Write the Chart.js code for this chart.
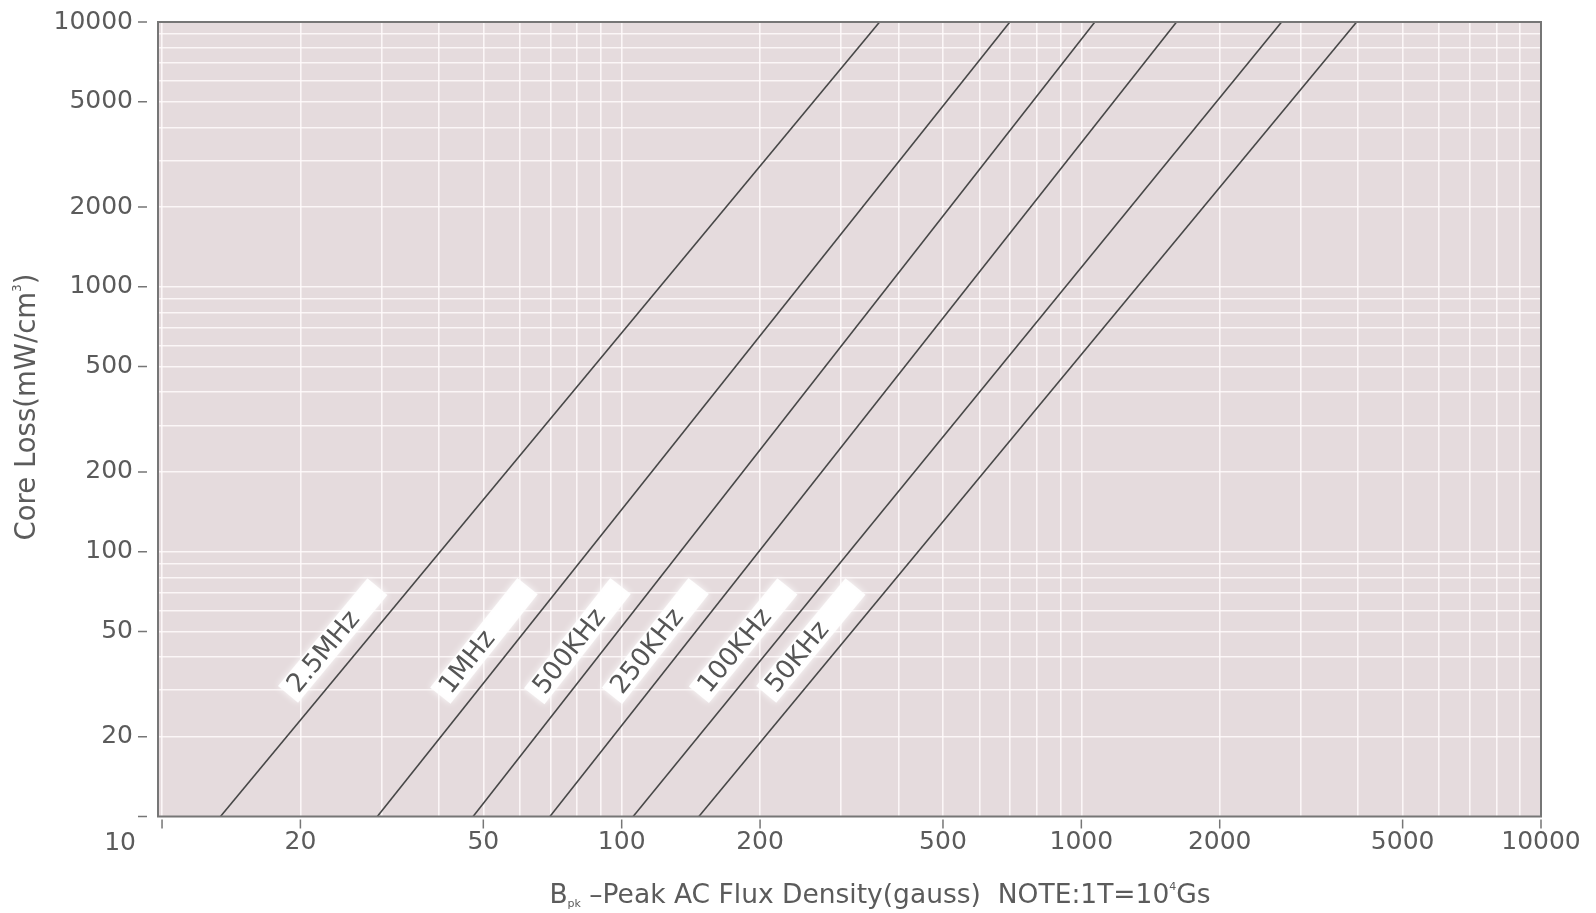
<!DOCTYPE html>
<html>
<head>
<meta charset="utf-8">
<title>Core Loss vs Flux Density</title>
<script src="https://cdn.jsdelivr.net/npm/chart.js@4.4.1/dist/chart.umd.min.js"></script>
<style>
  html, body { margin: 0; padding: 0; background: #ffffff; }
  #wrap { width: 1596px; height: 913px; position: relative; }
</style>
</head>
<body>
<div id="wrap"><canvas id="lossChart"></canvas></div>
<script>
// Each frequency curve is a straight line on log-log axes,
// given by the flux density where it crosses loss = 10 and loss = 10000
const freqNames  = ['2.5MHz', '1MHz', '500KHz', '250KHz', '100KHz', '50KHz'];
const fluxAtLow  = [13.4, 29.4, 47.5, 69.8, 105.9, 147.2];   // gauss at 10 mW/cm3
const fluxAtHigh = [364, 699, 1070, 1611, 2727, 3971];       // gauss at 10000 mW/cm3
const lossLow  = 10;
const lossHigh = 10000;

// loss value along each line where its name tag sits
const tagLoss = 40;

// grid lines (1..9 per decade) and labelled ticks
const gridValues = [10, 20, 30, 40, 50, 60, 70, 80, 90,
                    100, 200, 300, 400, 500, 600, 700, 800, 900,
                    1000, 2000, 3000, 4000, 5000, 6000, 7000, 8000, 9000, 10000];
const xLabelValues = [10, 20, 50, 100, 200, 500, 1000, 2000, 5000, 10000];
const yLabelValues = [10, 20, 50, 100, 200, 500, 1000, 2000, 5000, 10000];

const FONT = 'DejaVu Sans';
const TEXT_COLOR = '#5b5b5b';
const FRAME_COLOR = '#767676';

// pinkish panel behind the grid
const plotBackground = {
  id: 'plotBackground',
  beforeDraw(chart) {
    const { ctx, chartArea: a } = chart;
    ctx.save();
    ctx.fillStyle = '#e5dbdd';
    ctx.fillRect(a.left, a.top, a.right - a.left, a.bottom - a.top);
    ctx.restore();
  }
};

// frame, short detached tick marks and the shared "10" corner label
const frameAndTicks = {
  id: 'frameAndTicks',
  afterDatasetsDraw(chart) {
    const { ctx, chartArea: a, scales: { x, y } } = chart;
    ctx.save();
    ctx.strokeStyle = FRAME_COLOR;
    ctx.lineWidth = 2;
    ctx.strokeRect(a.left, a.top, a.right - a.left, a.bottom - a.top);

    ctx.lineWidth = 1.5;
    ctx.beginPath();
    xLabelValues.forEach(v => {
      const px = x.getPixelForValue(v);
      ctx.moveTo(px, a.bottom + 3);
      ctx.lineTo(px, a.bottom + 12);
    });
    yLabelValues.forEach(v => {
      const py = y.getPixelForValue(v);
      ctx.moveTo(a.left - 20, py);
      ctx.lineTo(a.left - 11, py);
    });
    ctx.stroke();

    ctx.fillStyle = TEXT_COLOR;
    ctx.font = '25px "' + FONT + '"';
    ctx.textAlign = 'center';
    ctx.textBaseline = 'middle';
    ctx.fillText('10', x.getPixelForValue(10) - 42, a.bottom + 27);
    ctx.restore();
  }
};

// white tags with the frequency names, laid along each line
const curveTags = {
  id: 'curveTags',
  afterDatasetsDraw(chart) {
    const { ctx, scales: { x, y } } = chart;
    chart.data.datasets.forEach(ds => {
      const [p0, p1] = ds.data;
      const x0 = x.getPixelForValue(p0.x), y0 = y.getPixelForValue(p0.y);
      const x1 = x.getPixelForValue(p1.x), y1 = y.getPixelForValue(p1.y);
      const ang = Math.atan2(y1 - y0, x1 - x0);
      const ty = y.getPixelForValue(tagLoss);
      const tx = x0 + (ty - y0) * (x1 - x0) / (y1 - y0);

      ctx.save();
      ctx.translate(tx, ty);
      ctx.rotate(ang);
      ctx.translate(0, -26);
      ctx.shadowColor = 'rgba(255,255,255,0.95)';
      ctx.shadowBlur = 7;
      ctx.fillStyle = 'rgba(255,255,255,0.93)';
      ctx.fillRect(-70, -13, 140, 26);
      ctx.shadowBlur = 0;
      ctx.fillStyle = '#555555';
      ctx.font = '26px "' + FONT + '"';
      ctx.textAlign = 'left';
      ctx.textBaseline = 'middle';
      ctx.fillText(ds.label, -63, 1);
      ctx.restore();
    });
  }
};

// draws a row of text pieces (with sub/superscripts) centred on cx
function drawRuns(ctx, runs, cx, baseY) {
  let total = 0;
  runs.forEach(r => {
    ctx.font = r.size + 'px "' + FONT + '"';
    r.w = ctx.measureText(r.t).width;
    total += r.w;
  });
  let cur = cx - total / 2;
  runs.forEach(r => {
    ctx.font = r.size + 'px "' + FONT + '"';
    ctx.fillText(r.t, cur, baseY + (r.dy || 0));
    cur += r.w;
  });
}

// axis titles
const axisTitles = {
  id: 'axisTitles',
  afterDraw(chart) {
    const { ctx } = chart;
    ctx.save();
    ctx.fillStyle = TEXT_COLOR;
    ctx.textAlign = 'left';
    ctx.textBaseline = 'alphabetic';
    drawRuns(ctx, [
      { t: 'B', size: 26.5 },
      { t: 'pk', size: 11, dy: 4 },
      { t: ' \u2013Peak AC Flux Density(gauss)  NOTE:1T=10', size: 26.5 },
      { t: '4', size: 11, dy: -13 },
      { t: 'Gs', size: 26.5 }
    ], 880, 903);

    ctx.translate(25, 407);
    ctx.rotate(-Math.PI / 2);
    drawRuns(ctx, [
      { t: 'Core Loss(mW/cm', size: 27.5 },
      { t: '3', size: 12, dy: -14 },
      { t: ')', size: 27.5 }
    ], 0, 10);
    ctx.restore();
  }
};

const datasets = freqNames.map((name, i) => ({
  label: name,
  data: [{ x: fluxAtLow[i], y: lossLow }, { x: fluxAtHigh[i], y: lossHigh }],
  borderColor: '#474747',
  borderWidth: 1.6,
  pointRadius: 0,
  showLine: true,
  fill: false
}));

const gridStyle = {
  color: 'rgba(255,250,251,0.85)',
  lineWidth: 1.6,
  drawTicks: false
};

const ctx = document.getElementById('lossChart').getContext('2d');
new Chart(ctx, {
  type: 'scatter',
  data: { datasets },
  options: {
    responsive: true,
    maintainAspectRatio: false,
    animation: false,
    layout: { padding: { top: 22, right: 55, left: 0, bottom: 0 } },
    plugins: {
      legend: { display: false },
      tooltip: { enabled: false }
    },
    scales: {
      x: {
        type: 'logarithmic',
        min: 9.8,
        max: 10000,
        afterBuildTicks: s => { s.ticks = gridValues.map(v => ({ value: v })); },
        afterFit: s => { s.height = 96.5; s.paddingLeft = 0; s.paddingRight = 0; },
        grid: gridStyle,
        border: { display: false },
        ticks: {
          autoSkip: false,
          maxRotation: 0,
          padding: 11,
          color: TEXT_COLOR,
          font: { family: FONT, size: 25 },
          callback: v => (xLabelValues.includes(v) && v !== 10) ? String(v) : ''
        }
      },
      y: {
        type: 'logarithmic',
        min: lossLow,
        max: lossHigh,
        afterBuildTicks: s => { s.ticks = gridValues.map(v => ({ value: v })); },
        afterFit: s => { s.width = 158; s.paddingTop = 0; s.paddingBottom = 0; },
        grid: gridStyle,
        border: { display: false },
        ticks: {
          autoSkip: false,
          padding: 25,
          color: TEXT_COLOR,
          font: { family: FONT, size: 25 },
          callback: v => (yLabelValues.includes(v) && v !== 10) ? String(v) : ''
        }
      }
    }
  },
  plugins: [plotBackground, frameAndTicks, curveTags, axisTitles]
});
</script>
</body>
</html>
